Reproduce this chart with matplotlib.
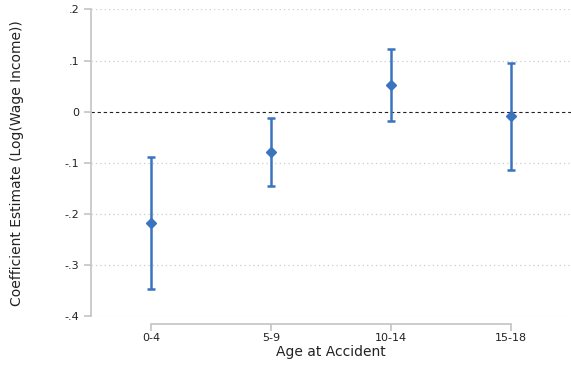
import numpy as np
import matplotlib.pyplot as plt

plt.switch_backend('Agg')

groups = ['0-4', '5-9', '10-14', '15-18']
estimates = [-0.218, -0.079, 0.053, -0.009]
ci_low = [-0.347, -0.145, -0.018, -0.114]
ci_high = [-0.089, -0.013, 0.123, 0.095]
yticks = [0.2, 0.1, 0.0, -0.1, -0.2, -0.3, -0.4]
ytick_labels = ['.2', '.1', '0', '-.1', '-.2', '-.3', '-.4']

blue = '#3a74c0'
gray = '#c4c4c4'

fig = plt.figure(figsize=(5.71, 3.68), dpi=100)
ax = fig.add_axes([0.1594, 0.1413, 0.8406, 0.8329])

x = np.arange(len(groups))
est = np.array(estimates)
err = [est - np.array(ci_low), np.array(ci_high) - est]

for yv in yticks:
    if yv != 0:
        ax.axhline(yv, color='#cccccc', lw=0.9, ls=(0, (1, 2.5)), zorder=0)
ax.axhline(0, color='#222222', lw=0.8, ls=(0, (3, 2.5)), zorder=1)

ax.errorbar(x, est, yerr=err, fmt='D', color=blue, ecolor=blue, ms=5,
            elinewidth=1.8, capsize=3, capthick=1.8, zorder=3)

ax.set_xlim(-0.5, 3.5)
ax.set_ylim(-0.4, 0.2)
ax.set_yticks(yticks)
ax.set_yticklabels(ytick_labels)
ax.set_xticks(x)
ax.set_xticklabels(groups)

for s in ['top', 'right']:
    ax.spines[s].set_visible(False)
ax.spines['left'].set_color(gray)
ax.spines['left'].set_linewidth(1.2)
ax.spines['bottom'].set_color(gray)
ax.spines['bottom'].set_linewidth(1.2)
ax.spines['bottom'].set_position(('outward', 6))
ax.spines['bottom'].set_bounds(0, 3)

ax.tick_params(axis='both', colors=gray, labelcolor='#222222', labelsize=8,
               length=5, width=1.2)
ax.tick_params(axis='x', pad=1)

ax.set_xlabel('Age at Accident', fontsize=10, color='#222222', labelpad=2)
ax.set_ylabel('Coefficient Estimate (Log(Wage Income))', fontsize=10,
              color='#222222', labelpad=29)

fig.savefig('out.png', dpi=100)
plt.close(fig)
